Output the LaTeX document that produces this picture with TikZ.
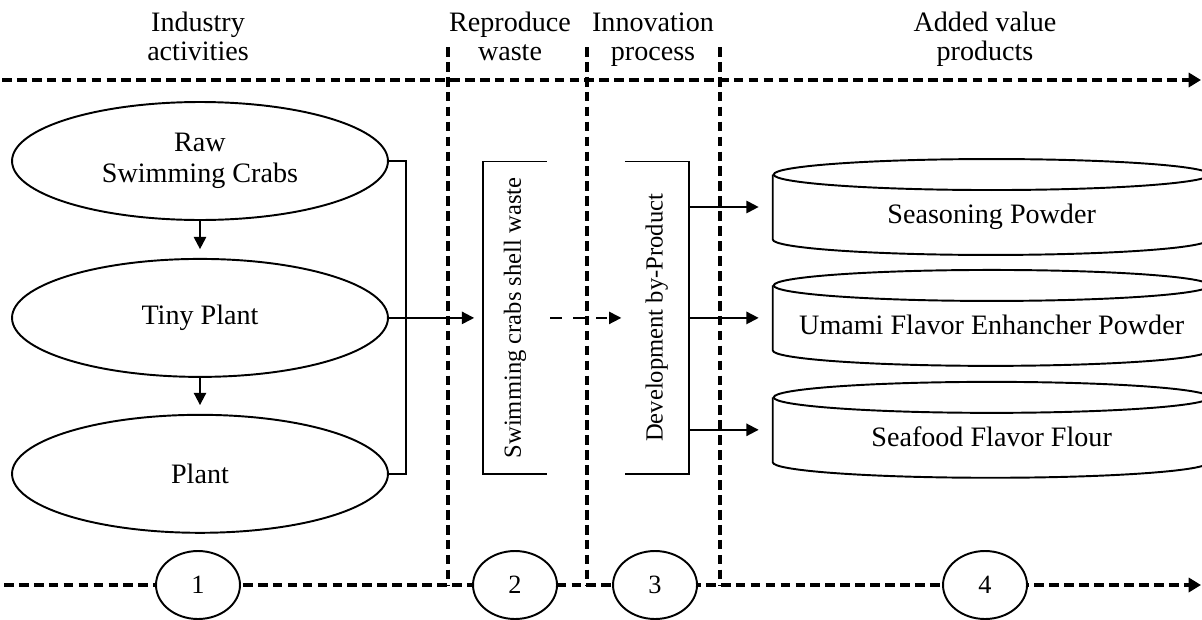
\documentclass[tikz,border=0pt]{standalone}
\usepackage{fontspec}
\setmainfont{Liberation Serif}
\usepackage{tikz}
\usetikzlibrary{positioning}
\usetikzlibrary{arrows.meta}
\usetikzlibrary{shapes}
\tikzset{
head/.style={
  inner sep=0pt,
  align=center,
  font=\fontsize{16}{16.5}\selectfont
  },
lane/.style={
  line width=2pt,
  dash pattern=on 5.5pt off 3pt
  },
stage/.style={
  ellipse,
  draw=black,
  inner sep=0pt,
  minimum width=7.52cm,
  minimum height=2.36cm,
  align=center,
  font=\fontsize{16}{18}\selectfont
  },
waste/.style={
  inner sep=0pt,
  minimum width=1.24cm,
  minimum height=6.22cm,
  font=\fontsize{14}{16}\selectfont
  },
prod/.style={
  inner sep=0pt,
  minimum width=8.72cm,
  minimum height=1.26cm,
  text height=0.8cm,
  text depth=0.12cm,
  font=\fontsize{16}{18}\selectfont
  },
num/.style={
  ellipse,
  draw=black,
  fill=white,
  inner sep=0pt,
  minimum width=1.68cm,
  minimum height=1.36cm,
  font=\fontsize{15}{17}\selectfont
  }
}
\begin{document}
\begin{tikzpicture}[x=0.02cm,y=-0.02cm,>={Triangle[length=7pt,width=7pt]},line width=1.1pt]
\useasboundingbox (0,0) rectangle (1202,619);
% headings
\node[head] (h1) at (198,40) {\strut Industry\\\strut activities};
\node[head] (h2) at (510,40) {\strut Reproduce\\\strut waste};
\node[head] (h3) at (653,40) {\strut Innovation\\\strut process};
\node[head] (h4) at (985,40) {\strut Added value\\\strut products};
% lanes
\coordinate (tl) at (2,80);
\coordinate (tr) at (1201,80);
\coordinate (bl) at (4,585);
\coordinate (br) at (1201,585);
\draw[lane,-{Triangle[length=7pt,width=8pt]}] (tl) -- (tr);
\draw[lane,-{Triangle[length=7pt,width=8pt]}] (bl) -- (br);
\foreach \x/\n in {448/v1,587/v2,720/v3}{
  \coordinate (\n) at (\x,47);
  \draw[lane] (\n) -- (\n |- bl);
}
% industry
\node[stage] (e1) at (200,161) {Raw\\Swimming Crabs};
\node[stage] (e2) [below=0.74cm of e1] {Tiny Plant};
\node[stage] (e3) [below=0.72cm of e2] {Plant};
\draw[->,shorten >=5pt] (e1) -- (e2);
\draw[->,shorten >=5pt] (e2) -- (e3);
\draw (e1.east) -- ++(17,0) |- (e3.east);
% waste and process
\node[waste] (b1) [right=1.88cm of e2] {\rotatebox{90}{Swimming crabs shell waste}};
\draw (b1.north east) -- (b1.north west) -- (b1.south west) -- (b1.south east);
\node[waste] (b2) [right=1.56cm of b1] {\rotatebox{90}{Development by-Product}};
\draw (b2.north west) -- (b2.north east) -- (b2.south east) -- (b2.south west);
\draw[->,shorten >=5pt] (e2.east) -- (b1.west);
\draw[->,line width=0.9pt,dash pattern=on 6.5pt off 6.5pt,shorten <=2pt,shorten >=2pt] (b1) -- (b2);
% products
\node[prod] (p2) [right=1.68cm of b2] {Umami Flavor Enhancher Powder};
\node[prod] (p1) [above=0.92cm of p2] {Seasoning Powder};
\node[prod] (p3) [below=0.94cm of p2] {Seafood Flavor Flour};
\foreach \p in {p1,p2,p3}{
  \draw (\p.north west) -- (\p.south west) arc[start angle=180,end angle=360,x radius=4.36cm,y radius=0.31cm] -- (\p.north east);
  \draw (\p.north) ellipse[x radius=4.36cm,y radius=0.31cm];
  \draw[->,shorten >=8pt] (b2.east |- \p) -- (\p.west);
}
% steps
\node[num] (c1) at (198,585) {1};
\node[num] (c2) at (515,585) {2};
\node[num] (c3) at (655,585) {3};
\node[num] (c4) at (985,585) {4};
\end{tikzpicture}
\end{document}
